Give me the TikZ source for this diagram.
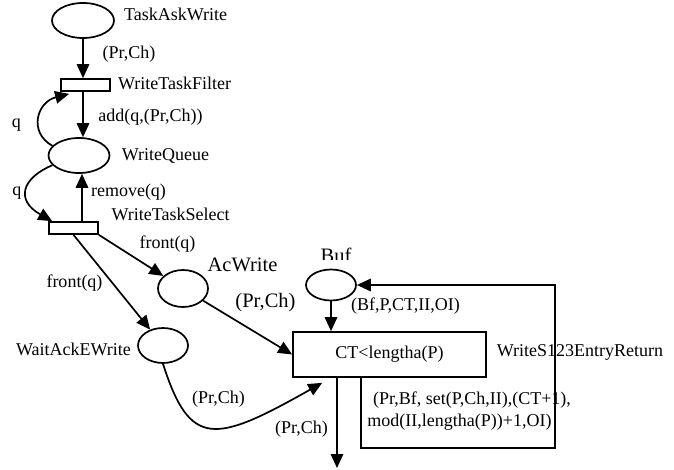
\documentclass[tikz,border=0pt]{standalone}
\usepackage{fontspec}
\setmainfont{Liberation Serif}
\usetikzlibrary{arrows.meta,calc,shapes.geometric}
\begin{document}
\begin{tikzpicture}[x=1pt,y=-1pt,
  line width=1.7pt,
  arr/.style={-{Triangle[length=14pt,width=12.5pt]}},
  place/.style={draw,ellipse,fill=white,inner sep=0pt},
  trans/.style={draw,rectangle,fill=white,inner sep=0pt},
  lbl/.style={inner sep=0pt,font=\fontsize{18}{18}\selectfont,text height=12pt,text depth=4pt},
  biglbl/.style={inner sep=0pt,font=\fontsize{20.5}{20.5}\selectfont,text height=13.5pt,text depth=4.5pt}]
\useasboundingbox (0,0) rectangle (674,470);

% places and transitions
\node[place,minimum width=62pt,minimum height=35pt] (taw) at (83,20.5) {};
\node[trans,minimum width=49pt,minimum height=12pt] (wtf) at (85.5,85) {};
\node[place,minimum width=61pt,minimum height=35pt] (wq) at (79,155.5) {};
\node[trans,minimum width=49pt,minimum height=12pt] (wts) at (73.5,228) {};
\node[place,minimum width=50pt,minimum height=37pt] (acw) at (183,288.5) {};
\node[place,minimum width=50pt,minimum height=35pt] (wae) at (163,345.5) {};
% the name of the buffer place is cut off at its lower edge
\begin{scope}
  \clip (300,240) rectangle (370,259);
  \node[biglbl] (lbuf) at (336,258) {Buf};
\end{scope}
\node[place,minimum width=50pt,minimum height=31pt] (buf) at (331,285) {};
\node[trans,minimum width=193pt,minimum height=45pt,font=\fontsize{18}{18}\selectfont] (big) at (389.5,354.5) {CT<lengtha(P)};

% arcs
\draw[arr] (taw.south) -- (taw.south |- wtf.north);
\draw[arr] (wtf.south -| taw.south) -- (taw.south |- wq.north);
\draw[arr] (wq.160) .. controls (28,132) and (37,102) .. ($(wtf.south west)+(9,2)$);
\draw[arr] (wq.200) .. controls (22,178) and (15,200) .. ($(wts.north west)+(4,0)$);
\coordinate (rs) at ($(wts.north)+(8.5,0)$);
\draw[arr] (rs) -- (rs |- wq.south);
\draw[arr] (wts.south east) -- (acw);
\draw[arr] (wts.south) -- (wae);
\draw[arr] (acw) -- (big.west);
\draw[arr] (wae.south) .. controls (190,448) and (214,444) .. ($(big.south west)+(30,5)$);
\coordinate (out) at (337,468);
\draw[arr] (big.south -| out) -- (out);
\draw[arr] (buf.south) -- (buf.south |- big.north);
\coordinate (loop) at (555,448);
\draw[arr] ($(big.south west)+(69,0)$) |- (loop) |- (buf.east);

% inscriptions
\node[lbl] (l1) at (175.5,17) {TaskAskWrite};
\node[lbl] (l2) at (129,55) {(Pr,Ch)};
\node[lbl] (l3) at (174.5,86) {WriteTaskFilter};
\node[lbl] (l4) at (150.5,118) {add(q,(Pr,Ch))};
\node[lbl] (l5) at (16.5,124) {q};
\node[lbl] (l6) at (165.5,157) {WriteQueue};
\node[lbl] (l7) at (17,192) {q};
\node[lbl] (l8) at (128.5,193) {remove(q)};
\node[lbl] (l9) at (170.5,217) {WriteTaskSelect};
\node[lbl] (l10) at (167.5,245) {front(q)};
\node[biglbl] (l11) at (242.5,267) {AcWrite};
\node[lbl] (l12) at (74.5,283) {front(q)};
\node[biglbl] (l13) at (265.5,303) {(Pr,Ch)};
\node[lbl] (l14) at (73.5,351) {WaitAckEWrite};
\node[lbl] (l15) at (405.5,306) {(Bf,P,CT,II,OI)};
\node[lbl] (l16) at (580,352) {WriteS123EntryReturn};
\node[lbl] (l17) at (472,400) {(Pr,Bf, set(P,Ch,II),(CT+1),};
\node[lbl] (l18) at (459.5,422) {mod(II,lengtha(P))+1,OI)};
\node[lbl] (l19) at (218.5,399) {(Pr,Ch)};
\node[lbl] (l20) at (301.5,429) {(Pr,Ch)};
\end{tikzpicture}
\end{document}
